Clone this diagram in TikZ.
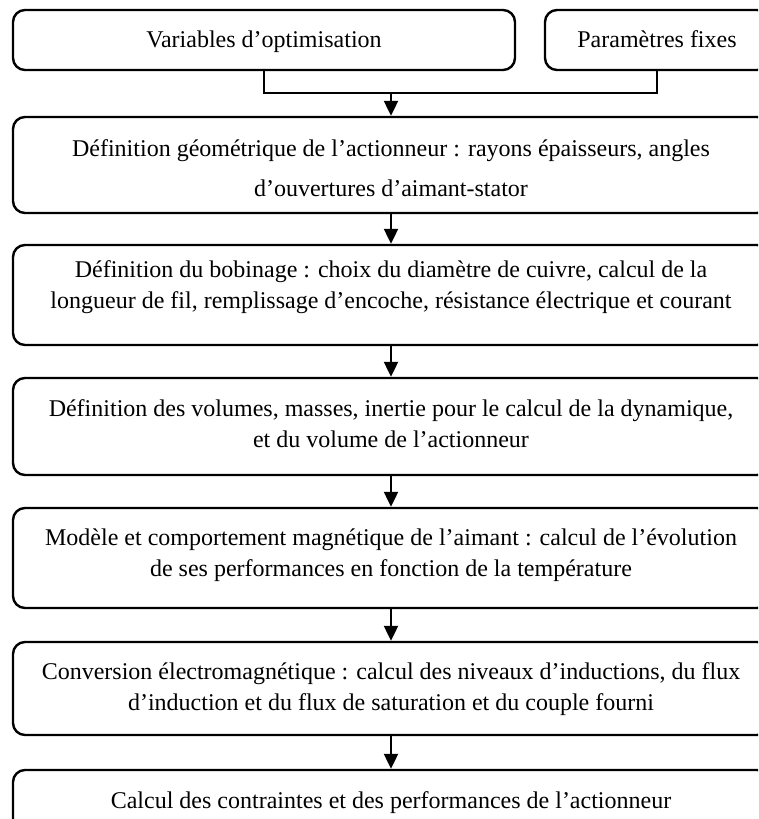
\documentclass[tikz,border=0pt]{standalone}
\usepackage{fontspec}
\setmainfont{Liberation Serif}
\usetikzlibrary{arrows.meta}
\begin{document}
\begin{tikzpicture}[x=1pt,y=-1pt,
  box/.style={draw, line width=2.4pt, rounded corners=12pt, inner sep=0pt},
  txt/.style={font=\fontsize{24}{31}\selectfont, align=center, inner sep=0pt},
  wide/.style={font=\fontsize{24}{40}\selectfont},
  arr/.style={line width=2.2pt, -{Triangle[length=15pt,width=14pt]}},
  conn/.style={line width=2.2pt}]
\useasboundingbox (0,0) rectangle (758,819);
\clip (0,0) rectangle (758,819);
% top row
\node[box, minimum width=502pt, minimum height=60pt] (v) at (264,40) {};
\node[txt, anchor=base] (tv) at (264,47) {Variables d’optimisation};
\node[box, minimum width=224pt, minimum height=60pt] (p) at (657,40) {};
\node[txt, anchor=base] (tp) at (657,47) {Paramètres fixes};
% main boxes
\node[box, minimum width=756pt, minimum height=96pt] (b2) at (391,165) {};
\node[txt, wide] (t2) at (391,168) {Définition géométrique de l’actionneur : rayons épaisseurs, angles\\d’ouvertures d’aimant-stator};
\node[box, minimum width=756pt, minimum height=100pt] (b3) at (391,295) {};
\node[txt] (t3) at (391,287.5) {Définition du bobinage : choix du diamètre de cuivre, calcul de la\\longueur de fil, remplissage d’encoche, résistance électrique et courant};
\node[box, minimum width=756pt, minimum height=97pt] (b4) at (391,426.5) {};
\node[txt] (t4) at (391,423.5) {Définition des volumes, masses, inertie pour le calcul de la dynamique,\\et du volume de l’actionneur};
\node[box, minimum width=756pt, minimum height=100pt] (b5) at (391,558) {};
\node[txt] (t5) at (391,555) {Modèle et comportement magnétique de l’aimant : calcul de l’évolution\\de ses performances en fonction de la température};
\node[box, minimum width=756pt, minimum height=93pt] (b6) at (391,688.5) {};
\node[txt] (t6) at (391,689) {Conversion électromagnétique : calcul des niveaux d’inductions, du flux\\d’induction et du flux de saturation et du couple fourni};
\node[box, minimum width=756pt, minimum height=64pt] (b7) at (391,802) {};
\node[txt, anchor=base] (t7) at (391,808) {Calcul des contraintes et des performances de l’actionneur};
% connectors
\coordinate (j) at (391,93);
\draw[conn] (v.south) |- (j) -| (p.south);
\draw[arr] (j) -- (b2.north);
\draw[arr] (b2.south) -- (b3.north);
\draw[arr] (b3.south) -- (b4.north);
\draw[arr] (b4.south) -- (b5.north);
\draw[arr] (b5.south) -- (b6.north);
\draw[arr] (b6.south) -- (b7.north);
\end{tikzpicture}
\end{document}
